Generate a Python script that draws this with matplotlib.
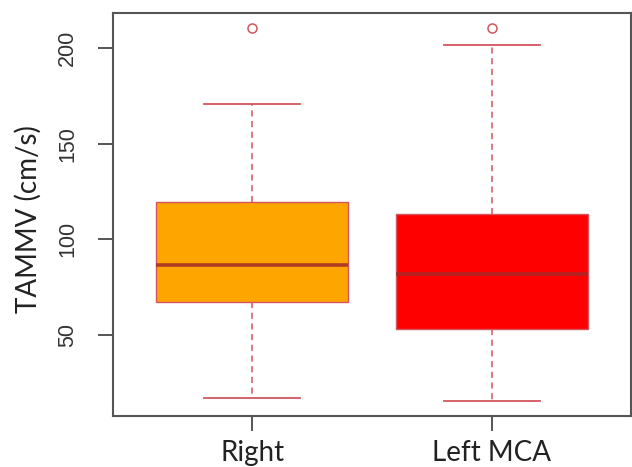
import numpy as np
import matplotlib
matplotlib.use("Agg")
import matplotlib.pyplot as plt

# summary statistics per group (cm/s)
groups = ["Right", "Left MCA"]
whisker_low = [17.0, 15.5]
q1 = [67.5, 53.0]
median = [86.5, 82.0]
q3 = [119.5, 113.5]
whisker_high = [170.5, 201.5]
outliers = [[210.5], [210.5]]
fill_colors = ["#FFA500", "#FF0000"]

edge = "#D2555F"
med_col = "#A52A2A"

stats = []
for i, name in enumerate(groups):
    stats.append(dict(label=name, whislo=whisker_low[i], q1=q1[i], med=median[i],
                      q3=q3[i], whishi=whisker_high[i], fliers=outliers[i]))

fig = plt.figure(figsize=(6.32, 4.67), dpi=100)
ax = fig.add_axes([0.1788, 0.1092, 0.8196, 0.8630])

bp = ax.bxp(stats, positions=[1, 2], widths=0.8, patch_artist=True,
            boxprops=dict(edgecolor=edge, linewidth=1.0),
            whiskerprops=dict(color=edge, linewidth=1.1, linestyle=(0, (4, 3))),
            capprops=dict(color=edge, linewidth=1.3),
            medianprops=dict(color=med_col, linewidth=2.6, alpha=0.85),
            flierprops=dict(marker="o", markerfacecolor="none", markeredgecolor=edge,
                            markersize=6.5, markeredgewidth=1.1))
for patch, c in zip(bp["boxes"], fill_colors):
    patch.set_facecolor(c)

# caps are half the box width, as in R
for k, cap in enumerate(bp["caps"]):
    pos = 1 + k // 2
    cap.set_xdata([pos - 0.2, pos + 0.2])

ax.set_xlim(0.42, 2.58)
ax.set_ylim(7.7, 218.3)
ax.set_yticks([50, 100, 150, 200])
ax.set_xticks([1, 2])
ax.set_xticklabels(groups, fontsize=20, family="Lato", color="#222222")
for lbl in ax.get_yticklabels():
    lbl.set_rotation(90)
    lbl.set_va("center")
    lbl.set_fontsize(15.5)
    lbl.set_family("Liberation Sans")
    lbl.set_color("#333333")

ax.tick_params(axis="y", length=11, width=1.4, color="#555555", pad=14)
ax.tick_params(axis="x", length=11, width=1.4, color="#555555", pad=6)
for s in ax.spines.values():
    s.set_color("#555555")
    s.set_linewidth(1.5)

ax.set_ylabel("TAMMV (cm/s)", fontsize=20, family="Lato", color="#222222")
ax.yaxis.label.set_va("center")
ax.yaxis.set_label_coords(-0.164, 0.488)

fig.savefig("out.png", dpi=100)
